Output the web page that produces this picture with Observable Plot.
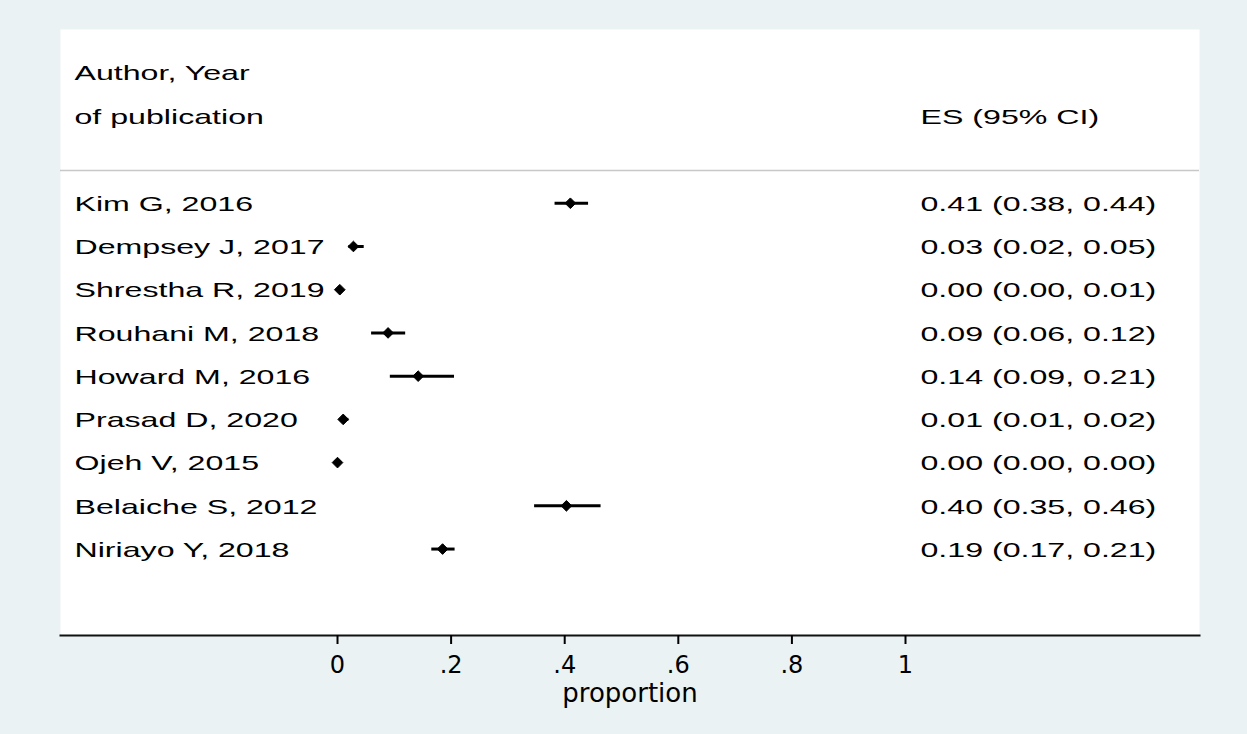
<!DOCTYPE html>
<html>
<head>
<meta charset="utf-8">
<script src="https://cdn.jsdelivr.net/npm/d3@7"></script>
<script src="https://cdn.jsdelivr.net/npm/@observablehq/plot@0.6"></script>
<style>
  html, body { margin: 0; padding: 0; background: #eaf2f3; }
</style>
</head>
<body>
<div id="chart"></div>
<script>
// ---- data ----
const authors = ["Kim G, 2016", "Dempsey J, 2017", "Shrestha R, 2019", "Rouhani M, 2018", "Howard M, 2016", "Prasad D, 2020", "Ojeh V, 2015", "Belaiche S, 2012", "Niriayo Y, 2018"];
const es  = [0.41, 0.028, 0.004, 0.089, 0.142, 0.010, 0.000, 0.403, 0.185];
const lo  = [0.383, 0.020, 0.000, 0.060, 0.093, 0.007, 0.000, 0.347, 0.166];
const hi  = [0.442, 0.047, 0.010, 0.120, 0.206, 0.020, 0.002, 0.464, 0.207];
const ciText = ["0.41 (0.38, 0.44)", "0.03 (0.02, 0.05)", "0.00 (0.00, 0.01)", "0.09 (0.06, 0.12)", "0.14 (0.09, 0.21)", "0.01 (0.01, 0.02)", "0.00 (0.00, 0.00)", "0.40 (0.35, 0.46)", "0.19 (0.17, 0.21)"];
const headerLeft = ["Author, Year", "of publication"];
const headerRight = "ES (95% CI)";
const xTicks = [0, 0.2, 0.4, 0.6, 0.8, 1];
const xLabel = "proportion";

// ---- table ----
const rows = authors.map((a, i) => ({author: a, es: es[i], lo: lo[i], hi: hi[i], ci: ciText[i], row: i}));
const headers = [
  {text: headerLeft[0], row: -3, side: "left"},
  {text: headerLeft[1], row: -2, side: "left"},
  {text: headerRight, row: -2, side: "right"}
];
const sepRow = -0.76;

const FONT = "Liberation Sans, Arial, sans-serif";
const TFS = 21;

const chart = Plot.plot({
  width: 1247,
  height: 734,
  marginLeft: 60,
  marginRight: 48,
  marginTop: 29,
  marginBottom: 99,
  style: {background: "#eaf2f3", overflow: "visible"},
  x: {domain: [-0.4877, 1.5176]},
  y: {domain: [-4.02, 10], reverse: true, axis: null},
  marks: [
    Plot.frame({fill: "white", stroke: "none"}),
    Plot.ruleY([sepRow], {stroke: "#c8c8c8", strokeWidth: 1.5}),
    Plot.frame({anchor: "bottom", stroke: "#111", strokeWidth: 2}),
    Plot.axisX({
      ticks: xTicks,
      tickFormat: d => d === 0 ? "0" : d === 1 ? "1" : String(d).replace(/^0\./, "."),
      tickSize: 9,
      tickPadding: 11,
      strokeWidth: 2,
      fontSize: 24,
      fontFamily: "DejaVu Sans",
      color: "#000",
      label: null
    }),
    Plot.text([xLabel], {frameAnchor: "bottom", text: d => d, lineAnchor: "middle", dy: 58, fontSize: 26, fontFamily: "DejaVu Sans", fill: "#000"}),
    Plot.ruleY(rows, {x1: "lo", x2: "hi", y: "row", stroke: "#000", strokeWidth: 3}),
    Plot.dot(rows, {x: "es", y: "row", symbol: "diamond2", r: 4.8, fill: "#000", stroke: "#000", strokeWidth: 1}),
    Plot.text(rows, {y: "row", text: "author", frameAnchor: "left", textAnchor: "start", dx: 14, dy: 1, fontSize: TFS, fontFamily: FONT, fill: "#000"}),
    Plot.text(rows, {y: "row", text: "ci", frameAnchor: "right", textAnchor: "start", dx: -279, dy: 1, fontSize: TFS, fontFamily: FONT, fill: "#000"}),
    Plot.text(headers.filter(h => h.side === "left"), {y: "row", text: "text", frameAnchor: "left", textAnchor: "start", dx: 14, dy: 0, fontSize: TFS, fontFamily: FONT, fill: "#000"}),
    Plot.text(headers.filter(h => h.side === "right"), {y: "row", text: "text", frameAnchor: "right", textAnchor: "start", dx: -279, dy: 0, fontSize: TFS, fontFamily: FONT, fill: "#000"})
  ]
});
document.getElementById("chart").appendChild(chart);

// the reference image is horizontally stretched: widen the table text to match
const STRETCH = 1.53;
chart.querySelectorAll('g[font-family^="Liberation"] text').forEach(t => {
  const w = t.getComputedTextLength();
  t.setAttribute("textLength", (w * STRETCH).toFixed(1));
  t.setAttribute("lengthAdjust", "spacingAndGlyphs");
});
</script>
</body>
</html>
